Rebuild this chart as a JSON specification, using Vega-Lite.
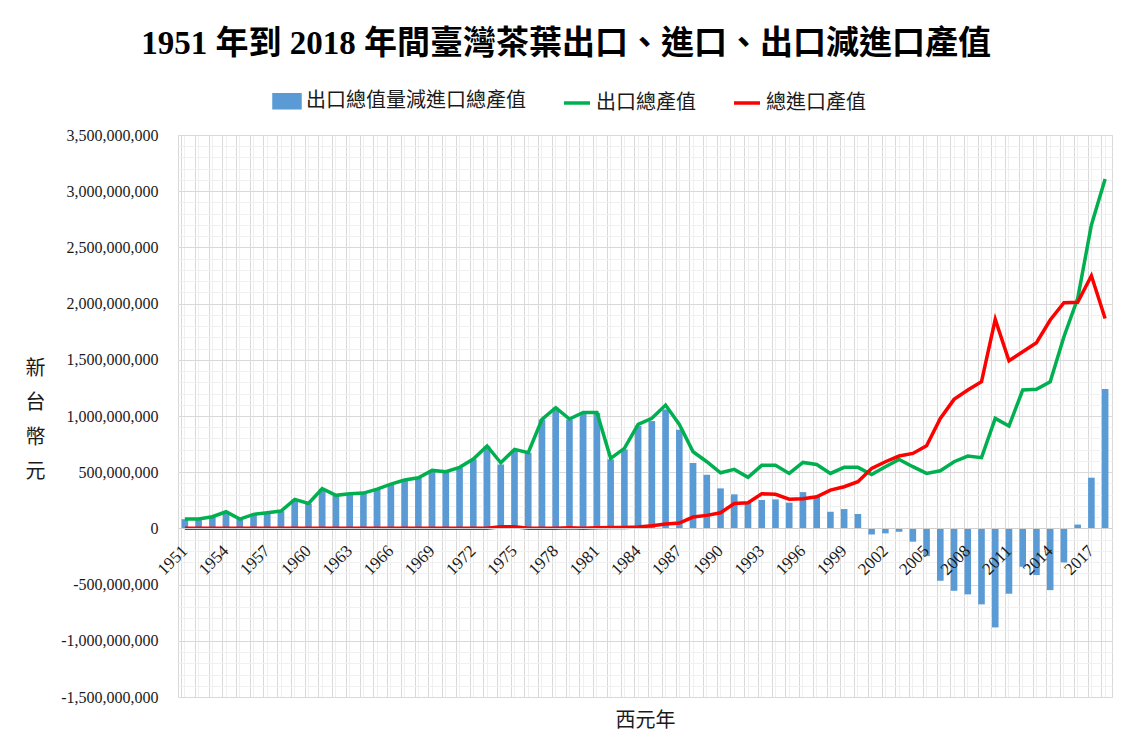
{
  "$schema": "https://vega.github.io/schema/vega-lite/v6.json",
  "width": 934,
  "height": 562,
  "autosize": {"type": "none"},
  "padding": {"left": 178, "top": 135, "right": 22, "bottom": 59},
  "background": "white",
  "title": {
    "text": "1951 年到 2018 年間臺灣茶葉出口、進口、出口減進口產值",
    "font": "Liberation Serif, Noto Sans CJK TC",
    "fontSize": 33,
    "fontWeight": "bold",
    "color": "#000000",
    "anchor": "middle",
    "baseline": "alphabetic",
    "dx": -79,
    "offset": -1
  },
  "config": {
    "view": {"stroke": "#d9d9d9"},
    "axis": {"labelFont": "Liberation Serif", "titleFont": "Liberation Serif, Noto Sans CJK TC", "labelColor": "#1a1a1a", "titleColor": "#1a1a1a"}
  },
  "data": {
    "values": [
      {"year": 1951, "export": 83000000, "import": 1000000, "diff": 82000000},
      {"year": 1952, "export": 83000000, "import": 1000000, "diff": 82000000},
      {"year": 1953, "export": 104000000, "import": 1000000, "diff": 103000000},
      {"year": 1954, "export": 148000000, "import": 1000000, "diff": 147000000},
      {"year": 1955, "export": 83000000, "import": 1000000, "diff": 82000000},
      {"year": 1956, "export": 125000000, "import": 1000000, "diff": 124000000},
      {"year": 1957, "export": 139000000, "import": 1000000, "diff": 138000000},
      {"year": 1958, "export": 154000000, "import": 1000000, "diff": 153000000},
      {"year": 1959, "export": 258000000, "import": 1000000, "diff": 257000000},
      {"year": 1960, "export": 222000000, "import": 1000000, "diff": 221000000},
      {"year": 1961, "export": 353000000, "import": 1000000, "diff": 352000000},
      {"year": 1962, "export": 294000000, "import": 1000000, "diff": 293000000},
      {"year": 1963, "export": 308000000, "import": 1000000, "diff": 307000000},
      {"year": 1964, "export": 314000000, "import": 1000000, "diff": 313000000},
      {"year": 1965, "export": 350000000, "import": 1000000, "diff": 349000000},
      {"year": 1966, "export": 394000000, "import": 1000000, "diff": 393000000},
      {"year": 1967, "export": 430000000, "import": 1000000, "diff": 429000000},
      {"year": 1968, "export": 451000000, "import": 1000000, "diff": 450000000},
      {"year": 1969, "export": 516000000, "import": 1000000, "diff": 515000000},
      {"year": 1970, "export": 504000000, "import": 1000000, "diff": 503000000},
      {"year": 1971, "export": 543000000, "import": 1000000, "diff": 542000000},
      {"year": 1972, "export": 617000000, "import": 1000000, "diff": 616000000},
      {"year": 1973, "export": 733000000, "import": 2000000, "diff": 731000000},
      {"year": 1974, "export": 584000000, "import": 15000000, "diff": 569000000},
      {"year": 1975, "export": 703000000, "import": 15000000, "diff": 688000000},
      {"year": 1976, "export": 673000000, "import": 1000000, "diff": 672000000},
      {"year": 1977, "export": 970000000, "import": 1000000, "diff": 969000000},
      {"year": 1978, "export": 1074000000, "import": 1000000, "diff": 1073000000},
      {"year": 1979, "export": 973000000, "import": 5000000, "diff": 968000000},
      {"year": 1980, "export": 1032000000, "import": 1000000, "diff": 1031000000},
      {"year": 1981, "export": 1032000000, "import": 5000000, "diff": 1027000000},
      {"year": 1982, "export": 623000000, "import": 9000000, "diff": 614000000},
      {"year": 1983, "export": 712000000, "import": 9000000, "diff": 703000000},
      {"year": 1984, "export": 925000000, "import": 12000000, "diff": 913000000},
      {"year": 1985, "export": 979000000, "import": 24000000, "diff": 955000000},
      {"year": 1986, "export": 1097000000, "import": 39000000, "diff": 1058000000},
      {"year": 1987, "export": 925000000, "import": 47000000, "diff": 878000000},
      {"year": 1988, "export": 682000000, "import": 101000000, "diff": 581000000},
      {"year": 1989, "export": 593000000, "import": 116000000, "diff": 477000000},
      {"year": 1990, "export": 495000000, "import": 139000000, "diff": 356000000},
      {"year": 1991, "export": 525000000, "import": 222000000, "diff": 303000000},
      {"year": 1992, "export": 455000000, "import": 228000000, "diff": 227000000},
      {"year": 1993, "export": 561000000, "import": 308000000, "diff": 253000000},
      {"year": 1994, "export": 561000000, "import": 303000000, "diff": 258000000},
      {"year": 1995, "export": 489000000, "import": 260000000, "diff": 229000000},
      {"year": 1996, "export": 587000000, "import": 264000000, "diff": 323000000},
      {"year": 1997, "export": 569000000, "import": 282000000, "diff": 287000000},
      {"year": 1998, "export": 489000000, "import": 341000000, "diff": 148000000},
      {"year": 1999, "export": 543000000, "import": 371000000, "diff": 172000000},
      {"year": 2000, "export": 543000000, "import": 415000000, "diff": 128000000},
      {"year": 2001, "export": 480000000, "import": 534000000, "diff": -54000000},
      {"year": 2002, "export": 549000000, "import": 593000000, "diff": -44000000},
      {"year": 2003, "export": 614000000, "import": 644000000, "diff": -30000000},
      {"year": 2004, "export": 549000000, "import": 667000000, "diff": -118000000},
      {"year": 2005, "export": 489000000, "import": 736000000, "diff": -247000000},
      {"year": 2006, "export": 513000000, "import": 979000000, "diff": -466000000},
      {"year": 2007, "export": 593000000, "import": 1148000000, "diff": -555000000},
      {"year": 2008, "export": 644000000, "import": 1231000000, "diff": -587000000},
      {"year": 2009, "export": 629000000, "import": 1305000000, "diff": -676000000},
      {"year": 2010, "export": 979000000, "import": 1860000000, "diff": -881000000},
      {"year": 2011, "export": 911000000, "import": 1492000000, "diff": -581000000},
      {"year": 2012, "export": 1231000000, "import": 1572000000, "diff": -341000000},
      {"year": 2013, "export": 1237000000, "import": 1652000000, "diff": -415000000},
      {"year": 2014, "export": 1305000000, "import": 1854000000, "diff": -549000000},
      {"year": 2015, "export": 1705000000, "import": 2008000000, "diff": -303000000},
      {"year": 2016, "export": 2045000000, "import": 2011000000, "diff": 34000000},
      {"year": 2017, "export": 2699000000, "import": 2248000000, "diff": 451000000},
      {"year": 2018, "export": 3108000000, "import": 1868000000, "diff": 1240000000}
    ]
  },
  "transform": [{"fold": ["diff", "export", "import"], "as": ["series", "value"]}],
  "layer": [
    {
      "transform": [{"filter": "datum.series === 'diff'"}],
      "mark": {"type": "bar"},
      "encoding": {
        "x": {
          "field": "year", "type": "ordinal",
          "scale": {"paddingInner": 0.52, "paddingOuter": 0.26},
          "axis": {"orient": "top", "grid": true, "gridColor": "#f0f0f0", "bandPosition": 0.5, "labels": false, "ticks": false, "domain": false, "title": null}
        },
        "y": {
          "field": "value", "type": "quantitative",
          "scale": {"domain": [-1.5e9, 3.5e9], "nice": false, "zero": false},
          "axis": {
            "orient": "right", "grid": true, "gridColor": "#f0f0f0", "labels": false, "ticks": false, "domain": false, "title": null,
            "values": [-1.5e9, -1.4e9, -1.3e9, -1.2e9, -1.1e9, -1e9, -9e8, -8e8, -7e8, -6e8, -5e8, -4e8, -3e8, -2e8, -1e8, 0, 1e8, 2e8, 3e8, 4e8, 5e8, 6e8, 7e8, 8e8, 9e8, 1e9, 1.1e9, 1.2e9, 1.3e9, 1.4e9, 1.5e9, 1.6e9, 1.7e9, 1.8e9, 1.9e9, 2e9, 2.1e9, 2.2e9, 2.3e9, 2.4e9, 2.5e9, 2.6e9, 2.7e9, 2.8e9, 2.9e9, 3e9, 3.1e9, 3.2e9, 3.3e9, 3.4e9, 3.5e9]
          }
        },
        "color": {
          "field": "series", "type": "nominal",
          "scale": {"domain": ["diff", "export", "import"], "range": ["#5b9bd5", "#00b050", "#ff0000"]},
          "legend": {
            "orient": "none", "legendX": 94, "legendY": -49, "direction": "horizontal",
            "title": null,
            "labelExpr": "datum.value === 'diff' ? '出口總值量減進口總產值' : datum.value === 'export' ? '出口總產值' : '總進口產值'",
            "labelFont": "Noto Sans CJK TC", "labelFontSize": 20, "labelColor": "#1a1a1a", "labelLimit": 400,
            "labelOffset": 4, "columnPadding": 31, "symbolSize": 676,
            "encode": {
              "symbols": {
                "update": {
                  "shape": {"signal": "datum.value === 'diff' ? 'M-1,-0.5H1V0.5H-1Z' : 'stroke'"},
                  "fill": {"signal": "datum.value === 'diff' ? '#5b9bd5' : 'transparent'"},
                  "stroke": {"signal": "datum.value === 'diff' ? 'transparent' : datum.value === 'export' ? '#00b050' : '#ff0000'"},
                  "strokeWidth": {"value": 3.5},
                  "opacity": {"value": 1}
                }
              }
            }
          }
        }
      }
    },
    {
      "transform": [{"filter": "datum.series === 'export'"}],
      "mark": {"type": "line", "strokeWidth": 3.5},
      "encoding": {
        "x": {
          "field": "year", "type": "ordinal",
          "axis": {"orient": "top", "grid": true, "gridColor": "#d9d9d9", "bandPosition": 0, "labels": false, "ticks": false, "domain": false, "title": null}
        },
        "y": {
          "field": "value", "type": "quantitative",
          "axis": {
            "orient": "left", "grid": true, "gridColor": "#d9d9d9", "ticks": false, "domain": false,
            "values": [-1.5e9, -1e9, -5e8, 0, 5e8, 1e9, 1.5e9, 2e9, 2.5e9, 3e9, 3.5e9],
            "labelExpr": "replace(format(datum.value, ',.0f'), '−', '-')",
            "labelFontSize": 16, "labelPadding": 20,
            "title": ["新", "台", "幣", "元"], "titleAngle": 0, "titleFontSize": 20, "titleFontWeight": "normal",
            "titleLineHeight": 34.5, "titleAlign": "center", "titleBaseline": "middle", "titleX": -143, "titleY": 233
          }
        },
        "color": {"field": "series", "type": "nominal"}
      }
    },
    {
      "transform": [{"filter": "datum.series === 'import'"}],
      "mark": {"type": "line", "strokeWidth": 3.5},
      "encoding": {
        "x": {
          "field": "year", "type": "ordinal",
          "axis": {
            "orient": "bottom", "offset": -169, "grid": false, "ticks": false, "domain": true, "domainColor": "#d0d0d0", "domainWidth": 1,
            "values": [1951, 1954, 1957, 1960, 1963, 1966, 1969, 1972, 1975, 1978, 1981, 1984, 1987, 1990, 1993, 1996, 1999, 2002, 2005, 2008, 2011, 2014, 2017],
            "labelAngle": -45, "labelAlign": "right", "labelBaseline": "middle", "labelFontSize": 17, "labelPadding": 20, "zindex": 1,
            "title": "西元年", "titleFontSize": 20, "titleFontWeight": "normal", "titleX": 467, "titleY": 192, "titleBaseline": "middle", "titleAlign": "center"
          }
        },
        "y": {"field": "value", "type": "quantitative", "axis": null},
        "color": {"field": "series", "type": "nominal"}
      }
    }
  ],
  "resolve": {"axis": {"x": "independent", "y": "independent"}}
}
